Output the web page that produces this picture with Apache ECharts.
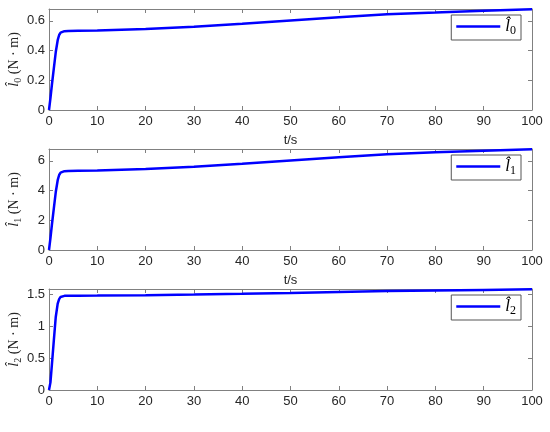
<!DOCTYPE html>
<html>
<head>
<meta charset="utf-8">
<script src="https://cdn.jsdelivr.net/npm/echarts@6/dist/echarts.min.js"></script>
<style>html,body{margin:0;padding:0;background:#fff;}#c{width:550px;height:432px;}</style>
</head>
<body>
<div id="c"></div>
<script>
const t  = [0, 0.3, 0.6, 1.0, 1.4, 1.8, 2.1, 2.4, 2.8, 3.2, 4, 6, 10, 20, 30, 40, 50, 60, 70, 80, 90, 100];
const l0 = [0, 0.08, 0.17, 0.28, 0.39, 0.47, 0.505, 0.521, 0.528, 0.531, 0.532, 0.533, 0.535, 0.545, 0.56, 0.58, 0.603, 0.625, 0.645, 0.656, 0.669, 0.678];
const l1 = [0, 0.8, 1.7, 2.8, 3.9, 4.7, 5.05, 5.21, 5.28, 5.31, 5.32, 5.33, 5.35, 5.45, 5.6, 5.8, 6.03, 6.25, 6.45, 6.58, 6.69, 6.78];
const l2 = [0, 0.12, 0.4, 0.78, 1.15, 1.36, 1.43, 1.465, 1.478, 1.482, 1.483, 1.484, 1.486, 1.493, 1.503, 1.515, 1.528, 1.543, 1.557, 1.568, 1.576, 1.585];
const xTicks = [0, 10, 20, 30, 40, 50, 60, 70, 80, 90, 100];
const yMax = [0.68, 6.8, 1.59];
const yInterval = [0.2, 2, 0.5];
const subs = ['0', '1', '2'];
const seriesVals = [l0, l1, l2];

const axisGray = '#808080';
const labelColor = '#262626';
const grids = [
  {left: 49, right: 18, top: 9, height: 101, outerBoundsMode: 'none', containLabel: false},
  {left: 49, right: 18, top: 149, height: 101, outerBoundsMode: 'none', containLabel: false},
  {left: 49, right: 18, top: 289, height: 101, outerBoundsMode: 'none', containLabel: false}
];
const rich = {
  i: {fontFamily: 'Liberation Serif', fontStyle: 'italic', fontSize: 15, color: labelColor},
  s: {fontFamily: 'Liberation Serif', fontSize: 10, color: labelColor, verticalAlign: 'bottom', padding: [8, 0, 0, 0]},
  n: {fontFamily: 'Liberation Serif', fontSize: 14, color: labelColor}
};
const lrich = {
  i: {fontFamily: 'Liberation Serif', fontStyle: 'italic', fontSize: 17, color: '#000'},
  s: {fontFamily: 'Liberation Serif', fontSize: 12, color: '#000', verticalAlign: 'bottom', padding: [9, 0, 0, 0]}
};

const xAxis = [], yAxis = [], series = [], legend = [];
grids.forEach((g, k) => {
  xAxis.push({
    type: 'value', gridIndex: k, min: 0, max: 100, interval: 10, position: 'bottom',
    axisLine: {show: true, onZero: false, lineStyle: {color: axisGray}},
    axisTick: {inside: true, length: 4, lineStyle: {color: axisGray}},
    axisLabel: {color: labelColor, fontFamily: 'Liberation Sans', fontSize: 13, margin: 5,
      formatter: v => xTicks.includes(v) ? String(v) : ''},
    splitLine: {show: false},
    name: k < 2 ? 't/s' : '', nameLocation: 'middle', nameGap: 24, nameMoveOverlap: false,
    nameTextStyle: {color: labelColor, fontFamily: 'Liberation Sans', fontSize: 13}
  });
  xAxis.push({
    type: 'value', gridIndex: k, min: 0, max: 100, interval: 10, position: 'top',
    axisLine: {show: true, onZero: false, lineStyle: {color: axisGray}},
    axisTick: {inside: true, length: 4, lineStyle: {color: axisGray}},
    axisLabel: {show: false}, splitLine: {show: false}
  });
  yAxis.push({
    type: 'value', gridIndex: k, min: 0, max: yMax[k], interval: yInterval[k], position: 'left',
    axisLine: {show: true, onZero: false, lineStyle: {color: axisGray}},
    axisTick: {inside: true, length: 4, lineStyle: {color: axisGray}},
    axisLabel: {color: labelColor, fontFamily: 'Liberation Sans', fontSize: 13, margin: 4, showMaxLabel: false},
    splitLine: {show: false},
    name: '{i|l\u0302}{s|' + subs[k] + '}{n| (N \u00b7 m)}',
    nameLocation: 'middle', nameGap: 26, nameRotate: 90, nameMoveOverlap: false,
    nameTextStyle: {rich: rich}
  });
  yAxis.push({
    type: 'value', gridIndex: k, min: 0, max: yMax[k], interval: yInterval[k], position: 'right',
    axisLine: {show: true, onZero: false, lineStyle: {color: axisGray}},
    axisTick: {inside: true, length: 4, lineStyle: {color: axisGray}},
    axisLabel: {show: false}, splitLine: {show: false}
  });
  const nm = 'l' + subs[k];
  series.push({
    type: 'line', name: nm, xAxisIndex: 2 * k, yAxisIndex: 2 * k, symbol: 'none',
    lineStyle: {color: '#0000ff', width: 2.5}, itemStyle: {color: '#0000ff'},
    data: t.map((x, j) => [x, seriesVals[k][j]])
  });
  legend.push({
    data: [{name: nm, icon: 'rect'}], right: 29, top: g.top + 6, orient: 'vertical',
    itemWidth: 44, itemHeight: 2.5, itemGap: 0,
    borderColor: '#555', borderWidth: 1, padding: [3, 5, 3, 5],
    backgroundColor: '#fff',
    formatter: () => '{i|l\u0302}{s|' + subs[k] + '}',
    textStyle: {rich: lrich}
  });
});

const chart = echarts.init(document.getElementById('c'), null, {renderer: 'canvas'});
chart.setOption({
  animation: false,
  backgroundColor: '#fff',
  grid: grids,
  xAxis: xAxis,
  yAxis: yAxis,
  legend: legend,
  series: series
});
</script>
</body>
</html>
